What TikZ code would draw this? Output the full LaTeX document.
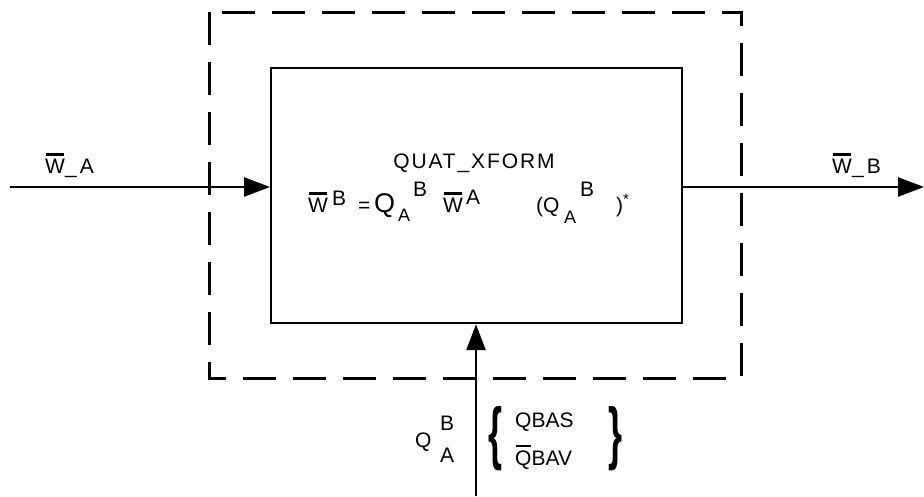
\documentclass[tikz,border=0pt]{standalone}
\usepackage{fontspec}
\usepackage{graphicx}
\setmainfont{Liberation Sans}
\usetikzlibrary{arrows.meta}
\newcommand\obar[1]{\setbox0\hbox{#1}\rlap{\hspace{1pt}\raisebox{\dimexpr\ht0+3pt\relax}{\rule{\dimexpr\wd0-2pt\relax}{2.2pt}}}\box0}
\newcommand\bracel{\resizebox{14pt}{50pt}{\bfseries\{}}
\newcommand\bracer{\resizebox{14pt}{50pt}{\bfseries\}}}
\tikzset{
  dashbox/.style={line width=3pt, dash pattern=on 33pt off 17pt},
  blockbox/.style={draw, line width=2.2pt, minimum width=411pt, minimum height=255pt, anchor=north west},
  flow/.style={line width=2.6pt, -{Triangle[length=26pt,width=19pt]}},
  txt/.style={inner sep=0pt, anchor=base west, font=\fontsize{21}{25}\selectfont},
  subtxt/.style={inner sep=0pt, anchor=base west, font=\fontsize{18}{21}\selectfont},
  bigtxt/.style={inner sep=0pt, anchor=base west, font=\fontsize{27}{31}\selectfont},
  widetxt/.style={inner sep=0pt, anchor=base west, font=\fontsize{21}{25}\selectfont\addfontfeatures{LetterSpace=15}},
}
\begin{document}
\begin{tikzpicture}[x=1pt,y=-1pt]
\useasboundingbox (0,0) rectangle (924,496);
\draw[dashbox] (209,12) rectangle (741,378);
\node[blockbox] (blk) at (270,67) {};
\coordinate (inA) at (10,187);
\coordinate (outB) at (924,187);
\coordinate (inQ) at (476,496);
\draw[flow] (inA) -- (inA -| blk.west);
\draw[flow] (blk.east |- outB) -- (outB);
\draw[flow] (inQ) -- (inQ |- blk.south);
% side labels
\node[widetxt] (la) at (45,173) {\obar{W}\_A};
\node[widetxt] (lb) at (832,173) {\obar{W}\_B};
% block title
\node[txt, anchor=base, font=\fontsize{21}{25}\selectfont\addfontfeatures{LetterSpace=9}] (title) at (474,168) {QUAT\_XFORM};
% equation
\node[txt] (e1) at (308,212) {\obar{W}};
\node[txt] (e2) at (332,205) {B};
\node[txt] (e3) at (358,212) {=};
\node[bigtxt] (e4) at (374,212) {Q};
\node[subtxt] (e5) at (398,221) {A};
\node[txt] (e6) at (413,196) {B};
\node[txt] (e7) at (443,212) {\obar{W}};
\node[txt] (e8) at (466,204) {A};
\node[txt] (e9) at (536,212) {(Q};
\node[subtxt] (e10) at (564,223) {A};
\node[txt] (e11) at (580,196) {B};
\node[txt] (e12) at (616,212) {)};
\node[txt,font=\fontsize{15}{18}\selectfont] (e13) at (623,204) {*};
% bottom label
\node[txt] (qa) at (415,447) {Q};
\node[txt] (qb) at (440,430) {B};
\node[txt] (qc) at (440,462) {A};
\node[inner sep=0pt] (brl) at (495,439) {\bracel};
\node[txt] (qbas) at (515,427) {QBAS};
\node[txt] (qbav) at (515,465) {\obar{Q}BAV};
\node[inner sep=0pt] (brr) at (615,439) {\bracer};
\end{tikzpicture}
\end{document}
